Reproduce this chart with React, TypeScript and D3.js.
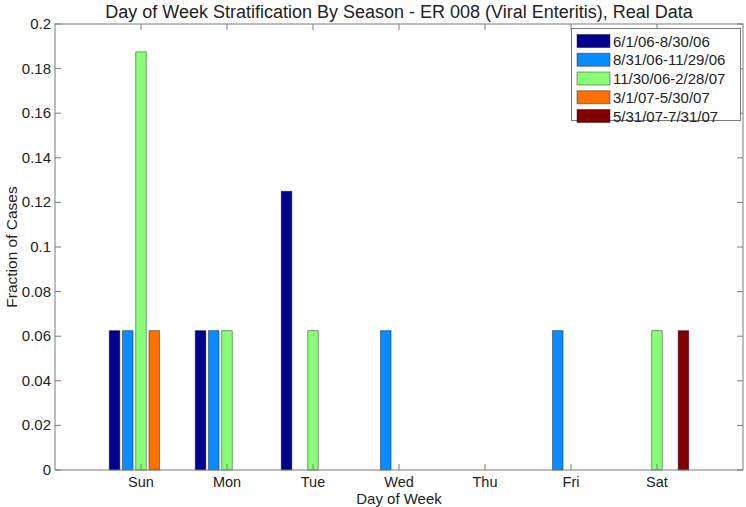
import React from "react";
import * as d3 from "d3";

const days = ["Sun", "Mon", "Tue", "Wed", "Thu", "Fri", "Sat"];
const seasons = ["6/1/06-8/30/06", "8/31/06-11/29/06", "11/30/06-2/28/07", "3/1/07-5/30/07", "5/31/07-7/31/07"];
const colors = ["#00008F", "#0A8CFF", "#88FF77", "#FF7000", "#800000"];
const s1 = [0.0625, 0.0625, 0.125, 0, 0, 0, 0];
const s2 = [0.0625, 0.0625, 0, 0.0625, 0, 0.0625, 0];
const s3 = [0.1875, 0.0625, 0.0625, 0, 0, 0, 0.0625];
const s4 = [0.0625, 0, 0, 0, 0, 0, 0];
const s5 = [0, 0, 0, 0, 0, 0, 0.0625];
const series = [s1, s2, s3, s4, s5];
const yTicks = [0, 0.02, 0.04, 0.06, 0.08, 0.1, 0.12, 0.14, 0.16, 0.18, 0.2];
const title = "Day of Week Stratification By Season - ER 008 (Viral Enteritis), Real Data";

export default function App() {
  const W = 746, H = 507;
  const L = 55, R = 743, T = 24, B = 470;
  const x = d3.scaleLinear().domain([0, 8]).range([L, R]);
  const y = d3.scaleLinear().domain([0, 0.2]).range([B, T]);
  const n = series.length;
  const groupW = Math.min(0.8, n / (n + 1.5));
  const step = groupW / n;
  const bw = step * 0.8;
  const font = "'Liberation Sans', Arial, sans-serif";
  const axisColor = "#7a7a7a";
  const tl = 6;
  return (
    <svg width={W} height={H} style={{ position: "absolute", left: 0, top: 0, background: "#fff" }} fontFamily={font}>
      <rect x={0} y={0} width={W} height={H} fill="#fff" />
      {series.map((s, si) =>
        s.map((v, di) => {
          if (v <= 0) return null;
          const c = di + 1 + (si - (n - 1) / 2) * step;
          const px0 = x(c - bw / 2);
          const pw = x(c + bw / 2) - px0;
          return (
            <rect key={`${si}-${di}`} x={px0} y={y(v)} width={pw} height={y(0) - y(v)}
              fill={colors[si]} stroke="#000" strokeOpacity={0.4} strokeWidth={1} />
          );
        })
      )}
      <rect x={L} y={T} width={R - L} height={B - T} fill="none" stroke={axisColor} strokeWidth={1} />
      {yTicks.map((t) => (
        <g key={t}>
          <line x1={L} x2={L + tl} y1={y(t)} y2={y(t)} stroke={axisColor} />
          <line x1={R} x2={R - tl} y1={y(t)} y2={y(t)} stroke={axisColor} />
          <text x={L - 4} y={y(t) + 5} textAnchor="end" fontSize={15} fill="#222">{String(t)}</text>
        </g>
      ))}
      {days.map((d, i) => (
        <g key={d}>
          <line x1={x(i + 1)} x2={x(i + 1)} y1={B} y2={B - tl} stroke={axisColor} />
          <line x1={x(i + 1)} x2={x(i + 1)} y1={T} y2={T + tl} stroke={axisColor} />
          <text x={x(i + 1)} y={487} textAnchor="middle" fontSize={14.5} fill="#222">{d}</text>
        </g>
      ))}
      <text x={(L + R) / 2} y={504} textAnchor="middle" fontSize={15} fill="#222">Day of Week</text>
      <text transform={`translate(17,${(T + B) / 2}) rotate(-90)`} textAnchor="middle" fontSize={15.5} fill="#222">Fraction of Cases</text>
      <text x={(L + R) / 2} y={18} textAnchor="middle" fontSize={18} fill="#222">{title}</text>
      <g>
        <rect x={571.5} y={28.5} width={169} height={92} fill="#fff" stroke={axisColor} />
        {seasons.map((s, i) => (
          <g key={s}>
            <rect x={577} y={34.5 + i * 18.75} width={33} height={13} fill={colors[i]} stroke="#000" strokeOpacity={0.4} />
            <text x={613} y={46.5 + i * 18.75} fontSize={15} fill="#222">{s}</text>
          </g>
        ))}
      </g>
    </svg>
  );
}
